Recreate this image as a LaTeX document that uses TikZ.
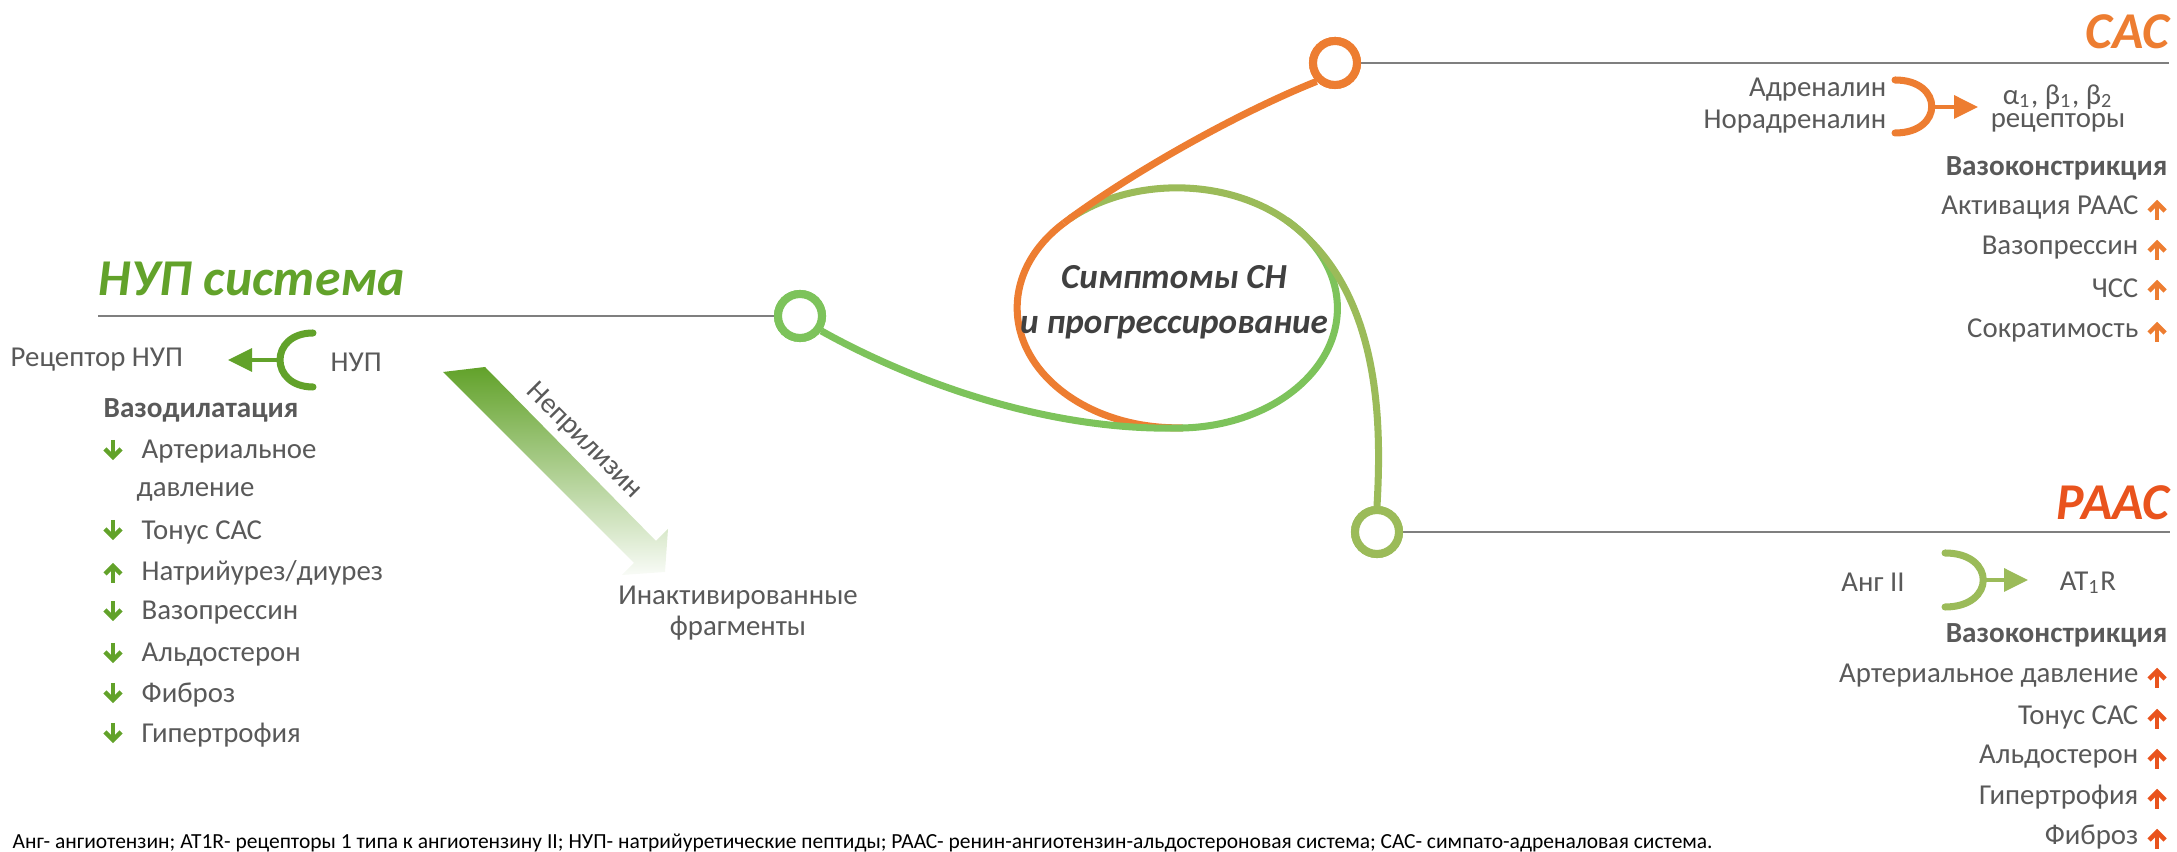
\documentclass[tikz,border=0pt]{standalone}
\usepackage{fontspec}
\setmainfont{Carlito}
\usetikzlibrary{arrows.meta}

\definecolor{sasorange}{HTML}{ED7D31}
\definecolor{raasred}{HTML}{E9531D}
\definecolor{nupgreen}{HTML}{62A22A}
\definecolor{loopgreen}{HTML}{7DC35B}
\definecolor{olive}{HTML}{9BBB59}
\definecolor{txtgray}{HTML}{595959}
\definecolor{rulegray}{HTML}{7F7F7F}
\definecolor{darktxt}{HTML}{404040}

\tikzset{
  txt/.style={text=txtgray, font=\fontsize{8.2}{9}\selectfont, inner sep=0pt},
  hdr/.style={text=txtgray, font=\fontsize{8.3}{9}\selectfont\bfseries, inner sep=0pt},
  sysname/.style={font=\fontsize{14.7}{18}\selectfont\bfseries\itshape, inner sep=0pt},
  ring/.style={circle, draw=#1, line width=2.3pt, fill=white, minimum size=4.4mm, inner sep=0pt},
  rule/.style={draw=rulegray, line width=0.8pt},
  tail/.style={draw=#1, line width=2pt},
  cup/.style={draw=#1, line width=2pt, line cap=round},
  bind/.style={draw=#1, line width=1pt, -{Triangle[length=2.4mm, width=2.3mm]}},
  pics/dnarr/.style={code={
    \draw[line width=1.3pt] (0,-10) -- (0,7);
    \draw[line width=1.3pt] (-8,-1) -- (0,7) -- (8,-1);}},
  pics/uparr/.style={code={
    \draw[line width=1.3pt] (0,10) -- (0,-7);
    \draw[line width=1.3pt] (-8,1) -- (0,-7) -- (8,1);}}
}

\begin{document}
\begin{tikzpicture}[x=0.1mm, y=-0.1mm]
\useasboundingbox (0,0) rectangle (2177,852);

% three systems around the central loop
\node[ring=loopgreen] (nupring) at (800,316) {};
\node[ring=sasorange] (sasring) at (1335,63) {};
\node[ring=olive] (raasring) at (1377,532) {};

\coordinate (nupend) at (98,316);
\coordinate (sasend) at (2169,63);
\coordinate (raasend) at (2170,532);
\draw[rule] (nupend) -- (nupring);
\draw[rule] (sasring) -- (sasend);
\draw[rule] (raasring) -- (raasend);

% loop around the symptoms
\draw[tail=sasorange] (1064,223) arc[start angle=-135, end angle=-272, x radius=160, y radius=120];
\draw[tail=loopgreen] (1183,428) arc[start angle=88, end angle=-47, x radius=160, y radius=120];
\draw[tail=olive] (1290,223) arc[start angle=-45, end angle=-132, x radius=160, y radius=120];

\draw[tail=sasorange] (sasring.225) .. controls (1240,112) and (1132,172) .. (1064,223);
\draw[tail=loopgreen] (nupring.-35) .. controls (900,375) and (1039,432) .. (1183,428);
\draw[tail=olive] (raasring.90) .. controls (1382,420) and (1380,291) .. (1290,223);

% rings again on top of the tails
\node[ring=loopgreen] at (nupring) {};
\node[ring=sasorange] at (sasring) {};
\node[ring=olive] at (raasring) {};

\node[text=darktxt, font=\fontsize{10}{12.8}\selectfont\bfseries\itshape, align=center, inner sep=0pt] (symptoms) at (1174,302) {Симптомы СН\\и прогрессирование};

% NUP
\node[sysname, text=nupgreen, anchor=west] (nuptitle) at (98,279) {НУП система};
\node[txt, anchor=west] (nuprec) at (10,360) {Рецептор НУП};
\node[txt, anchor=west] (nup) at (330,362) {НУП};
\draw[cup=nupgreen] (313,333) .. controls (269,333) and (269,387) .. (313,387);
\coordinate (nupcup) at (280,360);
\coordinate (nuptip) at (228,360);
\draw[bind=nupgreen] (nupcup) -- (nuptip);

\node[hdr, anchor=west] (vasodil) at (103,410) {Вазодилатация};
\node[txt, anchor=west] (nup1) at (141,452) {Артериальное};
\node[txt, anchor=west] (nup1b) at (136,492) {давление};
\node[txt, anchor=west] (nup2) at (141,532) {Тонус САС};
\node[txt, anchor=west] (nup3) at (141,573) {Натрийурез/диурез};
\node[txt, anchor=west] (nup4) at (141,613) {Вазопрессин};
\node[txt, anchor=west] (nup5) at (141,655) {Альдостерон};
\node[txt, anchor=west] (nup6) at (141,695) {Фиброз};
\node[txt, anchor=west] (nup7) at (141,735) {Гипертрофия};
\pic[color=nupgreen] at (113,450) {dnarr};
\pic[color=nupgreen] at (113,530) {dnarr};
\pic[color=nupgreen] at (113,573) {uparr};
\pic[color=nupgreen] at (113,611) {dnarr};
\pic[color=nupgreen] at (113,653) {dnarr};
\pic[color=nupgreen] at (113,693) {dnarr};
\pic[color=nupgreen] at (113,733) {dnarr};

% neprilysin
\shade[shading angle=45, top color=nupgreen, middle color=nupgreen!85, bottom color=nupgreen!4]
  (443,372) -- (485,367) -- (656,541) -- (668,529) -- (665,572) -- (622,575) -- (634,563) -- cycle;
\node[txt, rotate=-45] (nep) at (584,441) {Неприлизин};
\node[txt] (inact1) at (738,598) {Инактивированные};
\node[txt] (inact2) at (738,628) {фрагменты};

% SAS
\node[sysname, text=sasorange, anchor=east] (sastitle) at (2170,32) {САС};
\node[txt, anchor=east] (adr) at (1887,90) {Адреналин};
\node[txt, anchor=east] (noradr) at (1887,122) {Норадреналин};
\draw[cup=sasorange] (1895,80) .. controls (1944,80) and (1944,133) .. (1895,133);
\coordinate (sascup) at (1932,107);
\coordinate (sastip) at (1978,107);
\draw[bind=sasorange] (sascup) -- (sastip);
\node[txt] (adrrec1) at (2058,97) {α\textsubscript{1}, β\textsubscript{1}, β\textsubscript{2}};
\node[txt] (adrrec2) at (2058,123) {рецепторы};
\node[hdr, anchor=east] (vasocon1) at (2168,168) {Вазоконстрикция};
\node[txt, anchor=east] (sas1) at (2139,208) {Активация РААС};
\node[txt, anchor=east] (sas2) at (2139,248) {Вазопрессин};
\node[txt, anchor=east] (sas3) at (2139,288) {ЧСС};
\node[txt, anchor=east] (sas4) at (2139,330) {Сократимость};
\pic[color=sasorange] at (2157,210) {uparr};
\pic[color=sasorange] at (2157,250) {uparr};
\pic[color=sasorange] at (2157,290) {uparr};
\pic[color=sasorange] at (2157,332) {uparr};

% RAAS
\node[sysname, text=raasred, anchor=east] (raastitle) at (2170,503) {РААС};
\node[txt] (ang) at (1873,582) {Анг II};
\draw[cup=olive] (1945,553) .. controls (1996,553) and (1996,607) .. (1945,607);
\coordinate (raascup) at (1983,580);
\coordinate (raastip) at (2028,580);
\draw[bind=olive] (raascup) -- (raastip);
\node[txt] (at1r) at (2088,583) {AT\textsubscript{1}R};
\node[hdr, anchor=east] (vasocon2) at (2168,635) {Вазоконстрикция};
\node[txt, anchor=east] (raas1) at (2139,676) {Артериальное давление};
\node[txt, anchor=east] (raas2) at (2139,717) {Тонус САС};
\node[txt, anchor=east] (raas3) at (2139,757) {Альдостерон};
\node[txt, anchor=east] (raas4) at (2139,797) {Гипертрофия};
\node[txt, anchor=east] (raas5) at (2139,837) {Фиброз};
\pic[color=raasred] at (2157,678) {uparr};
\pic[color=raasred] at (2157,719) {uparr};
\pic[color=raasred] at (2157,759) {uparr};
\pic[color=raasred] at (2157,799) {uparr};
\pic[color=raasred] at (2157,839) {uparr};

\node[anchor=west, inner sep=0pt, font=\fontsize{6.12}{7}\selectfont] (legend) at (12,843) {Анг- ангиотензин; AT1R- рецепторы 1 типа к ангиотензину II; НУП- натрийуретические пептиды; РААС- ренин-ангиотензин-альдостероновая система; САС- симпато-адреналовая система.};
\end{tikzpicture}
\end{document}
